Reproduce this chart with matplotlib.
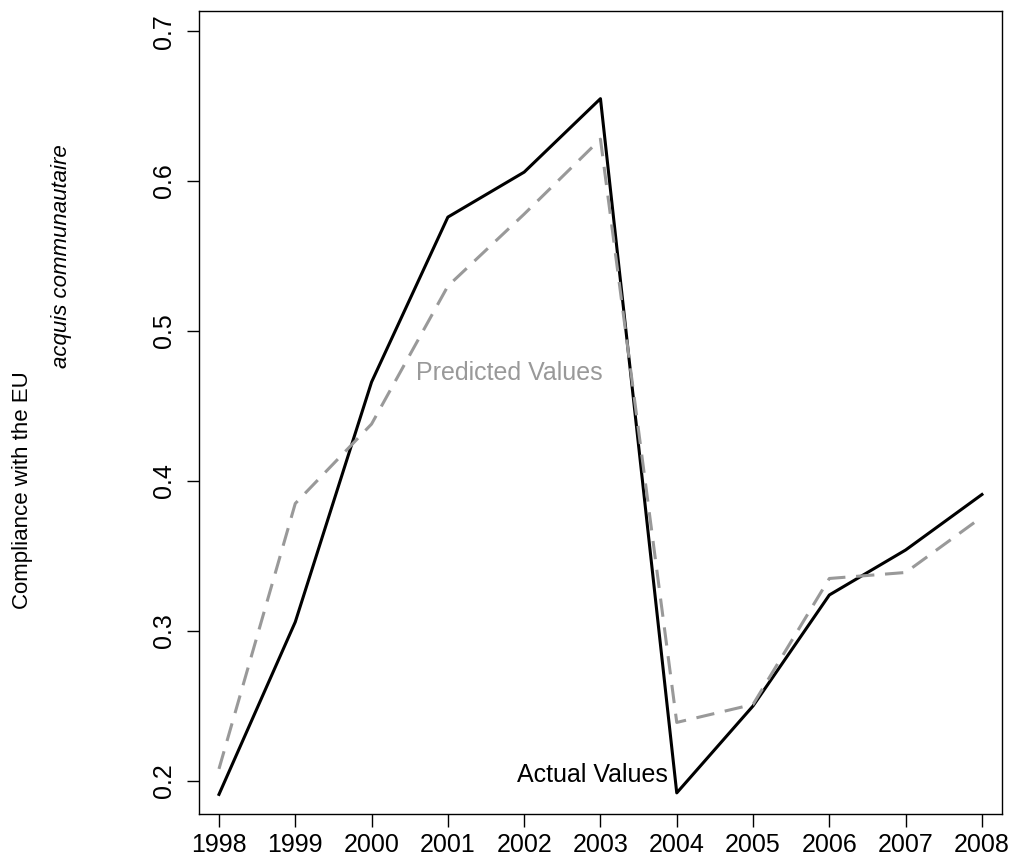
import matplotlib
matplotlib.use("Agg")
import matplotlib.pyplot as plt

plt.rcParams['font.family'] = ['Liberation Sans', 'DejaVu Sans']

# data
years = [1998, 1999, 2000, 2001, 2002, 2003, 2004, 2005, 2006, 2007, 2008]
actual = [0.191, 0.306, 0.466, 0.576, 0.606, 0.655, 0.192, 0.250, 0.324, 0.354, 0.391]
predicted = [0.208, 0.385, 0.438, 0.530, 0.578, 0.628, 0.239, 0.251, 0.335, 0.339, 0.376]
y_ticks = [0.2, 0.3, 0.4, 0.5, 0.6, 0.7]

fig = plt.figure(figsize=(10.16, 8.64), dpi=100)
ax = fig.add_axes([0.196, 0.058, 0.790, 0.929])

# lines (predicted drawn on top, as in the original)
ax.plot(years, actual, color='black', linewidth=2.2)
ax.plot(years, predicted, color='#999999', linewidth=2.2, linestyle=(0, (6, 3.5)))

# labels inside the plot
ax.text(2001.8, 0.472, 'Predicted Values', color='#999999', fontsize=18,
        ha='center', va='center')
ax.text(2003.88, 0.204, 'Actual Values', color='black', fontsize=18,
        ha='right', va='center')

# axes, R-like
ax.set_xlim(1997.74, 2008.26)
ax.set_ylim(0.178, 0.7133)
ax.set_xticks(years)
ax.set_xticklabels([str(y) for y in years])
ax.set_yticks(y_ticks)
ax.set_yticklabels([str(t) for t in y_ticks], rotation=90, va='center')
ax.tick_params(axis='both', direction='out', length=9, width=1.0, labelsize=18)
ax.tick_params(axis='x', pad=5)
ax.tick_params(axis='y', pad=8)
for s in ax.spines.values():
    s.set_linewidth(1.0)

# y axis title in two pieces
fig.text(23 / 1016, 1 - 490 / 864, 'Compliance with the EU', rotation=90,
         fontsize=16, ha='center', va='center')
fig.text(62 / 1016, 1 - 256 / 864, 'acquis communautaire', rotation=90,
         fontsize=16, style='italic', ha='center', va='center')

fig.savefig('out.png', dpi=100)
